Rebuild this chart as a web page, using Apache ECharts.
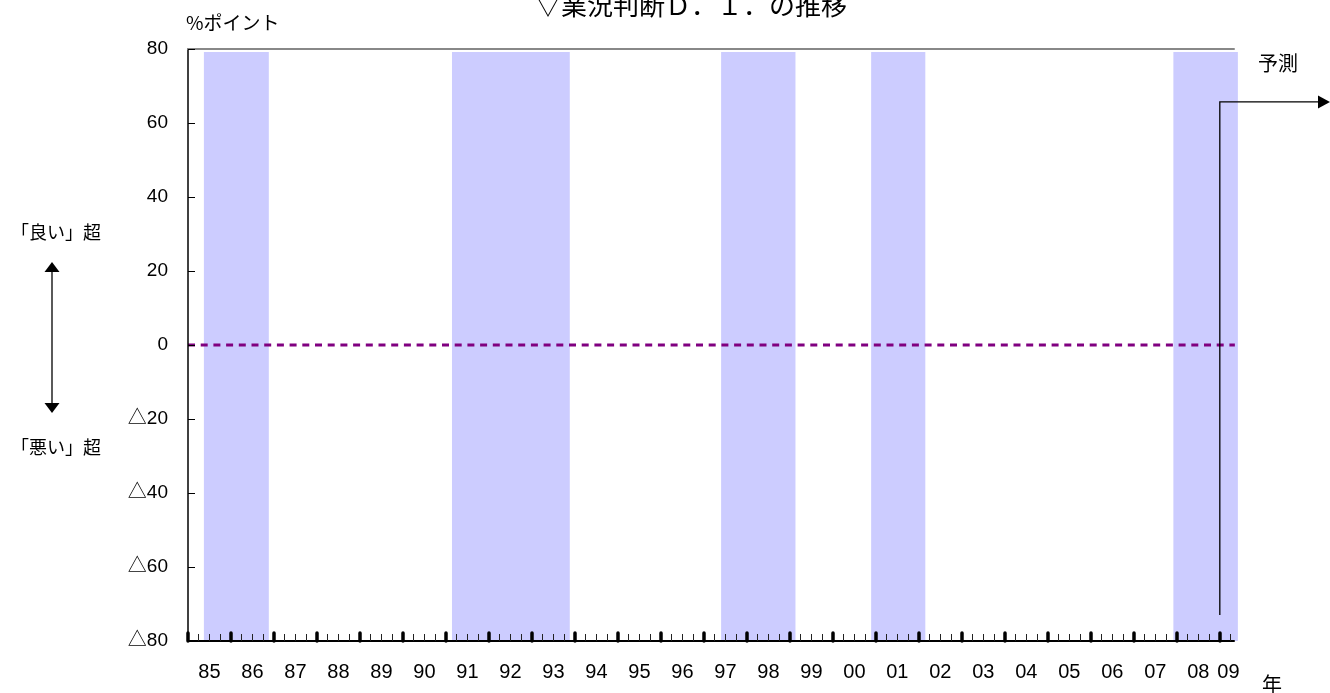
<!DOCTYPE html>
<html>
<head>
<meta charset="utf-8">
<script src="https://cdn.jsdelivr.net/npm/echarts@6.0.0/dist/echarts.min.js"></script>
<style>
  html, body { margin: 0; padding: 0; background: #fff; }
  #chart { width: 1330px; height: 693px; }
</style>
</head>
<body>
<div id="chart"></div>
<script>
// Time axis in fractional years (1985.0 = start of 1985)
const axisStart = 1985;
const axisEnd = 2009.33;

// Year boundaries (bold ticks) and label anchors (mid-year; 2009 is partial)
const yearTicks = [1985, 1986, 1987, 1988, 1989, 1990, 1991, 1992, 1993, 1994, 1995, 1996,
  1997, 1998, 1999, 2000, 2001, 2002, 2003, 2004, 2005, 2006, 2007, 2008, 2009];
const yearLabelAt = [1985.5, 1986.5, 1987.5, 1988.5, 1989.5, 1990.5, 1991.5, 1992.5, 1993.5,
  1994.5, 1995.5, 1996.5, 1997.5, 1998.5, 1999.5, 2000.5, 2001.5, 2002.5, 2003.5, 2004.5,
  2005.5, 2006.5, 2007.5, 2008.5, 2009.2];

// Recession periods (shaded), [start, end] in fractional years
const recessionStart = [1985.37, 1991.14, 1997.40, 2000.89, 2007.92];
const recessionEnd   = [1986.88, 1993.88, 1999.13, 2002.15, 2009.42];

// D.I. range and zero reference
const yMin = -80, yMax = 80, yStep = 20;
const zeroRef = [[1985, 0], [2009.35, 0]];

// Forecast marker: starts at 2009, spans this D.I. range
const forecastAt = 2009.0;
const forecastSpan = [-73.0, 65.7];

const FONT = "'Liberation Sans', 'Noto Sans CJK JP', sans-serif";
const JP = "'Noto Sans CJK JP', sans-serif";

const bands = recessionStart.map((s, i) => [s, recessionEnd[i]]);

const chart = echarts.init(document.getElementById('chart'), null, { renderer: 'canvas' });

const option = {
  animation: false,
  backgroundColor: '#fff',
  grid: { left: 188, right: 96, top: 49, bottom: 52, containLabel: false },
  xAxis: [
    {
      type: 'value',
      z: 10,
      min: axisStart,
      max: axisEnd,
      interval: 1,
      axisLine: { show: true, onZero: false, lineStyle: { color: '#000', width: 2 } },
      axisTick: {
        show: true, inside: true, length: 8, customValues: yearTicks,
        lineStyle: { color: '#000', width: 3.5, cap: 'round' }
      },
      minorTick: { show: true, splitNumber: 4, length: 7, lineStyle: { color: '#222', width: 1 } },
      axisLabel: {
        customValues: yearLabelAt,
        formatter: v => String(Math.floor(v) % 100).padStart(2, '0'),
        fontSize: 20, color: '#000', fontFamily: FONT, margin: 21
      },
      splitLine: { show: false },
      minorSplitLine: { show: false }
    },
    {
      type: 'value',
      position: 'top',
      z: 10,
      min: axisStart,
      max: axisEnd,
      interval: 1,
      axisLine: { show: true, onZero: false, lineStyle: { color: '#888', width: 2 } },
      axisTick: { show: false },
      axisLabel: { show: false },
      splitLine: { show: false }
    }
  ],
  yAxis: {
    type: 'value',
    z: 10,
    min: yMin,
    max: yMax,
    interval: yStep,
    axisLine: { show: true, onZero: false, lineStyle: { color: '#000', width: 1.5 } },
    axisTick: { show: true, inside: true, length: 7, lineStyle: { color: '#000', width: 1 } },
    axisLabel: {
      formatter: v => (v < 0 ? '△' + (-v) : String(v)),
      fontSize: 19, color: '#000', fontFamily: FONT, margin: 20
    },
    splitLine: { show: false }
  },
  series: [
    {
      name: '景気後退期',
      type: 'custom',
      xAxisIndex: 0,
      yAxisIndex: 0,
      clip: false,
      z: 1,
      silent: true,
      encode: { x: [0, 1] },
      data: bands,
      renderItem: (params, api) => {
        const p0 = api.coord([api.value(0), 79.2]);
        const p1 = api.coord([api.value(1), yMin]);
        return {
          type: 'rect',
          shape: { x: p0[0], y: p0[1], width: p1[0] - p0[0], height: p1[1] - p0[1] },
          style: { fill: '#ccccff' }
        };
      }
    },
    {
      name: 'ゼロ',
      type: 'line',
      xAxisIndex: 0,
      yAxisIndex: 0,
      z: 3,
      symbol: 'none',
      silent: true,
      data: zeroRef,
      lineStyle: { color: '#800080', width: 3, type: [7, 5.7] }
    }
  ]
};

chart.setOption(option);

// Annotations: forecast arrow anchored to the axes, plus side notes
const fTop = chart.convertToPixel({ xAxisIndex: 0, yAxisIndex: 0 }, [forecastAt, forecastSpan[1]]);
const fBot = chart.convertToPixel({ xAxisIndex: 0, yAxisIndex: 0 }, [forecastAt, forecastSpan[0]]);
const W = chart.getWidth();

chart.setOption({
  graphic: [
    {
      type: 'text', z: 10,
      style: { text: '▽業況判断Ｄ．Ｉ．の推移', x: 691, y: 5, fill: '#000', font: "26px " + JP,
        textAlign: 'center', textVerticalAlign: 'middle' }
    },
    {
      type: 'text', z: 10,
      style: { text: '%ポイント', x: 186, y: 23, fill: '#000', font: "19px " + JP, textVerticalAlign: 'middle' }
    },
    {
      type: 'text', z: 10,
      style: { text: '予測', x: 1258, y: 63, fill: '#000', font: "20px " + JP, textVerticalAlign: 'middle' }
    },
    {
      type: 'text', z: 10,
      style: { text: '年', x: 1262, y: 684, fill: '#000', font: "20px " + JP, textVerticalAlign: 'middle' }
    },
    {
      type: 'text', z: 10,
      style: { text: '「良い」超', x: 11, y: 232, fill: '#000', font: "18px " + JP, textVerticalAlign: 'middle' }
    },
    {
      type: 'text', z: 10,
      style: { text: '「悪い」超', x: 11, y: 447, fill: '#000', font: "18px " + JP, textVerticalAlign: 'middle' }
    },
    // vertical double arrow on the left
    {
      type: 'line', z: 10,
      shape: { x1: 52, y1: 270, x2: 52, y2: 405 },
      style: { stroke: '#000', lineWidth: 1.3 }
    },
    {
      type: 'polygon', z: 10,
      shape: { points: [[52, 262], [44.5, 272], [59.5, 272]] },
      style: { fill: '#000' }
    },
    {
      type: 'polygon', z: 10,
      shape: { points: [[52, 413], [44.5, 403], [59.5, 403]] },
      style: { fill: '#000' }
    },
    // forecast marker
    {
      type: 'polyline', z: 10,
      shape: { points: [[fBot[0], fBot[1]], [fTop[0], fTop[1]], [W - 12, fTop[1]]] },
      style: { stroke: '#000', lineWidth: 1.3, fill: null }
    },
    {
      type: 'polygon', z: 10,
      shape: { points: [[W - 12, fTop[1] - 6.5], [W, fTop[1]], [W - 12, fTop[1] + 6.5]] },
      style: { fill: '#000' }
    }
  ]
});
</script>
</body>
</html>
